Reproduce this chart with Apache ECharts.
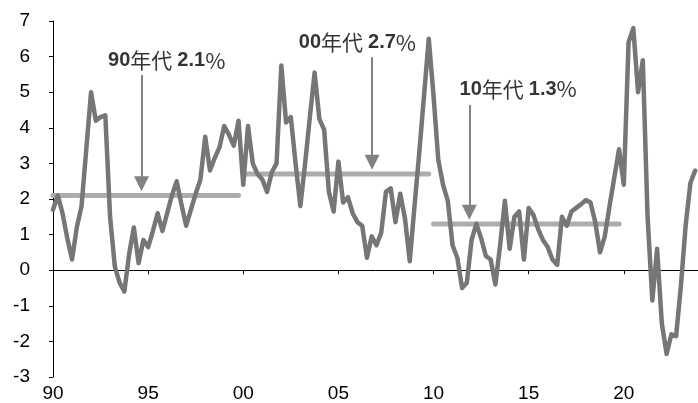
<!DOCTYPE html>
<html>
<head>
<meta charset="utf-8">
<script src="https://cdn.jsdelivr.net/npm/echarts@6/dist/echarts.min.js"></script>
<style>
  html, body { margin: 0; padding: 0; background: #ffffff; }
  #chart { width: 698px; height: 403px; }
</style>
</head>
<body>
<div id="chart"></div>
<script>
// Quarterly series, first quarter of 1990 onward (%)
const firstYear = 1990;
const quarterlyValues = [
  1.7, 2.1, 1.6, 0.9,      // 1990
  0.3, 1.2, 1.8, 3.4,      // 1991
  5.0, 4.2, 4.3, 4.35,     // 1992
  1.5, 0.1, -0.35, -0.6,   // 1993
  0.45, 1.2, 0.2, 0.85,    // 1994
  0.65, 1.1, 1.6, 1.1,     // 1995
  1.6, 2.1, 2.5, 1.85,     // 1996
  1.25, 1.7, 2.15, 2.55,   // 1997
  3.75, 2.8, 3.15, 3.45,   // 1998
  4.05, 3.8, 3.5, 4.2,     // 1999
  2.4, 4.05, 3.0, 2.7,     // 2000
  2.55, 2.2, 2.75, 3.0,    // 2001
  5.75, 4.15, 4.3, 3.0,    // 2002
  1.8, 3.0, 4.3, 5.55,     // 2003
  4.25, 3.95, 2.2, 1.65,   // 2004
  3.05, 1.9, 2.05, 1.6,    // 2005
  1.35, 1.25, 0.35, 0.95,  // 2006
  0.7, 1.05, 2.2, 2.3,     // 2007
  1.35, 2.15, 1.45, 0.25,  // 2008
  1.8, 3.3, 4.9, 6.5,      // 2009
  4.9, 3.1, 2.4, 1.95,     // 2010
  0.7, 0.35, -0.5, -0.35,  // 2011
  0.85, 1.3, 0.9, 0.4,     // 2012
  0.3, -0.4, 0.7, 1.95,    // 2013
  0.6, 1.5, 1.65, 0.3,     // 2014
  1.75, 1.55, 1.15, 0.85,  // 2015
  0.65, 0.3, 0.15, 1.5,    // 2016
  1.25, 1.65, 1.75, 1.85,  // 2017
  1.97, 1.9, 1.35, 0.5,    // 2018
  0.95, 1.8, 2.6, 3.4,     // 2019
  2.4, 6.4, 6.8, 5.0,      // 2020
  5.9, 1.5, -0.85, 0.6,    // 2021
  -1.5, -2.35, -1.8, -1.85,// 2022
  -0.45, 1.25, 2.45, 2.8   // 2023
];

// Axis ticks
const tickYears = [1990, 1995, 2000, 2005, 2010, 2015, 2020];
const tickLabels = ['90', '95', '00', '05', '10', '15', '20'];

// Decade averages
const decadeNames = ['90', '00', '10'];
const decadeStarts = [1990, 2000, 2010];
const decadeEnds = [1999.75, 2009.75, 2019.75];
const decadeAverages = [2.1, 2.7, 1.3];

// Placement of the decade notes and their arrows (axis units)
const notePlacement = [
  { text: [1995.98, 5.90], arrowX: 1994.65, arrowTop: 5.48 },
  { text: [2006.00, 6.40], arrowX: 2006.77, arrowTop: 5.98 },
  { text: [2014.45, 5.09], arrowX: 2011.88, arrowTop: 4.64 }
];

const seriesPoints = quarterlyValues.map((v, i) => [firstYear + i / 4, v]);

const averageSeries = decadeAverages.map((avg, k) => ({
  type: 'line',
  name: decadeNames[k] + '年代',
  data: [[decadeStarts[k], avg], [decadeEnds[k], avg]],
  showSymbol: false,
  symbol: 'none',
  silent: true,
  z: 2,
  lineStyle: { color: '#adadad', width: 5, cap: 'round' },
  markLine: {
    silent: true,
    symbol: ['none', 'triangle'],
    symbolSize: 15,
    label: { show: false },
    lineStyle: { color: '#828282', width: 2, type: 'solid' },
    itemStyle: { color: '#828282' },
    emphasis: { disabled: true },
    data: [[
      { coord: [notePlacement[k].arrowX, notePlacement[k].arrowTop] },
      { coord: [notePlacement[k].arrowX, avg + 0.33] }
    ]]
  }
}));

const noteData = decadeNames.map((name, k) => ({
  value: [notePlacement[k].text[0], notePlacement[k].text[1]],
  decade: name,
  avg: decadeAverages[k]
}));

const chart = echarts.init(document.getElementById('chart'), null, { renderer: 'canvas' });

chart.setOption({
  animation: false,
  backgroundColor: '#ffffff',
  grid: { left: 53, right: 0, top: 21, bottom: 25 },
  xAxis: [
    {
      type: 'value', min: 1990, max: 2023.9, position: 'bottom',
      axisLine: { show: true, onZero: true, lineStyle: { color: '#000', width: 1 } },
      axisTick: { show: true, length: 4, customValues: tickYears, lineStyle: { color: '#000' } },
      axisLabel: { show: false },
      splitLine: { show: false }
    },
    {
      type: 'value', min: 1990, max: 2023.9, position: 'bottom',
      axisLine: { show: false, onZero: false },
      axisTick: { show: false },
      axisLabel: {
        show: true,
        customValues: tickYears,
        formatter: v => {
          const i = tickYears.indexOf(Math.round(v));
          return i >= 0 ? tickLabels[i] : '';
        },
        fontFamily: 'Liberation Sans',
        fontSize: 19,
        color: '#000',
        margin: 7
      },
      splitLine: { show: false }
    }
  ],
  yAxis: {
    type: 'value', min: -3, max: 7, interval: 1,
    axisLine: { show: true, lineStyle: { color: '#000', width: 1 } },
    axisTick: { show: true, length: 4, lineStyle: { color: '#000' } },
    axisLabel: { fontFamily: 'Liberation Sans', fontSize: 19, color: '#000', margin: 23 },
    splitLine: { show: false }
  },
  series: [
    ...averageSeries,
    {
      type: 'line',
      name: 'quarterly',
      data: seriesPoints,
      showSymbol: false,
      symbol: 'none',
      silent: true,
      z: 3,
      lineStyle: { color: '#767676', width: 4.5, join: 'round', cap: 'round' }
    },
    {
      type: 'scatter',
      name: 'notes',
      data: noteData,
      symbolSize: 0,
      silent: true,
      z: 5,
      label: {
        show: true,
        position: 'inside',
        formatter: p => `{n|${p.data.decade}}{c|年代}{s| }{n|${p.data.avg.toFixed(1)}}{p|%}`,
        rich: {
          n: { fontFamily: 'Liberation Sans', fontWeight: 'bold', fontSize: 20, color: '#000' },
          c: { fontFamily: 'Noto Sans CJK JP', fontSize: 21, color: '#000' },
          s: { fontFamily: 'Liberation Sans', fontSize: 18 },
          p: { fontFamily: 'Noto Sans CJK JP', fontSize: 22, color: '#000' }
        }
      }
    }
  ]
});
</script>
</body>
</html>
